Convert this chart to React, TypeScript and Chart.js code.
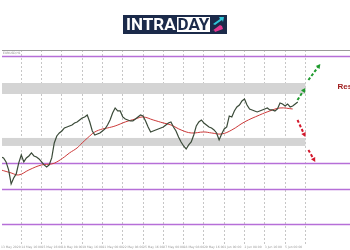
import React, { useEffect, useRef } from "react";
import { Chart, registerables } from "chart.js";
Chart.register(...registerables);

// closing prices, one per bar (bar index = position on the time axis)
const closes = [
  1.0786, 1.0784, 1.0776, 1.0760, 1.0732, 1.0744, 1.0752, 1.0774, 1.0790, 1.0776,
  1.0784, 1.0788, 1.0794, 1.0788, 1.0786, 1.0782, 1.0776, 1.0770, 1.0766, 1.0770,
  1.0784, 1.0814, 1.0828, 1.0834, 1.0838, 1.0844, 1.0846, 1.0848, 1.0850, 1.0854,
  1.0856, 1.0860, 1.0864, 1.0866, 1.0870, 1.0856, 1.0838, 1.0830, 1.0832, 1.0834,
  1.0838, 1.0842, 1.0850, 1.0860, 1.0874, 1.0884, 1.0878, 1.0878, 1.0866, 1.0862,
  1.0860, 1.0858, 1.0858, 1.0862, 1.0866, 1.0870, 1.0868, 1.0858, 1.0846, 1.0836,
  1.0838, 1.0840, 1.0842, 1.0844, 1.0846, 1.0850, 1.0854, 1.0856, 1.0846, 1.0838,
  1.0826, 1.0816, 1.0808, 1.0802, 1.0810, 1.0816, 1.0830, 1.0848, 1.0856, 1.0860,
  1.0854, 1.0850, 1.0846, 1.0844, 1.0840, 1.0834, 1.0820, 1.0832, 1.0842, 1.0846,
  1.0868, 1.0866, 1.0878, 1.0886, 1.0890, 1.0898, 1.0902, 1.0890, 1.0882, 1.0880,
  1.0878, 1.0876, 1.0878, 1.0880, 1.0882, 1.0884, 1.0880, 1.0880, 1.0878, 1.0882,
  1.0894, 1.0892, 1.0888, 1.0892, 1.0886, 1.0888, 1.0892, 1.0896,
];

// moving average (red)
const maBars = [0, 4, 7, 11, 16, 20, 22, 25, 27, 30, 32, 35, 37, 40, 42, 45, 49, 53, 56, 60, 64, 67, 71, 75, 80, 83, 87, 91, 96, 102, 106, 110, 115];
const maValues = [
  1.0760, 1.0754, 1.0750, 1.0760, 1.0770, 1.0772, 1.0776, 1.0786, 1.0794, 1.0804,
  1.0814, 1.0828, 1.0836, 1.0842, 1.0844, 1.0848, 1.0856, 1.0862, 1.0866, 1.0860,
  1.0854, 1.0850, 1.0840, 1.0834, 1.0836, 1.0834, 1.0832, 1.0840, 1.0856, 1.0870,
  1.0878, 1.0884, 1.0882,
];

const gridBars = [0, 8, 16, 24, 32, 40, 48, 56, 64, 72, 80, 88, 96, 104, 112, 120];
const timeLabels = [
  "13 May 2020", "14 May 16:00", "15 May 16:00", "18 May 08:00", "19 May 16:00",
  "21 May 00:00", "22 May 08:00", "25 May 16:00", "27 May 00:00", "28 May 08:00",
  "29 May 16:00", "1 Jun 00:00", "2 Jun 08:00", "3 Jun 16:00", "5 Jun 00:00", "",
];

// horizontal support/resistance levels (purple)
const levelPrices = [1.0988, 1.0774, 1.0722, 1.0652];
// grey zones
const zoneTops = [1.0934, 1.0824];
const zoneBottoms = [1.0912, 1.0808];
const zoneEndBar = 120;

// scenario arrows
const upArrowFromBars = [116.9, 121.2];
const upArrowFromPrices = [1.0900, 1.0940];
const upArrowToBars = [120.0, 125.9];
const upArrowToPrices = [1.0924, 1.0972];
const downArrowFromBars = [116.9, 121.2];
const downArrowFromPrices = [1.0860, 1.0800];
const downArrowToBars = [120.0, 123.9];
const downArrowToPrices = [1.0826, 1.0776];

const noteText = "Resistance";
const noteBar = 132.7;
const notePrice = 1.0926;
const symbolText = "EURUSD,H1";

export default function App() {
  const ref = useRef<HTMLCanvasElement>(null);

  useEffect(() => {
    document.body.style.margin = "0";
    if (!ref.current) return;

    const overlay = {
      id: "overlay",
      beforeDatasetsDraw(chart: any) {
        const { ctx, chartArea, scales } = chart;
        const xs = scales.x, ys = scales.y;
        ctx.save();
        ctx.fillStyle = "#d4d4d4";
        const xEnd = xs.getPixelForValue(zoneEndBar);
        zoneTops.forEach((t, i) => {
          const y1 = ys.getPixelForValue(t);
          const y2 = ys.getPixelForValue(zoneBottoms[i]);
          ctx.fillRect(chartArea.left, y1, xEnd - chartArea.left, y2 - y1);
        });
        ctx.strokeStyle = "#b66fd8";
        ctx.lineWidth = 1.5;
        levelPrices.forEach((p) => {
          const y = Math.round(ys.getPixelForValue(p)) + 0.5;
          ctx.beginPath();
          ctx.moveTo(chartArea.left, y);
          ctx.lineTo(chartArea.right, y);
          ctx.stroke();
        });
        ctx.strokeStyle = "#9a9a9a";
        ctx.lineWidth = 1;
        ctx.beginPath();
        ctx.moveTo(chartArea.left, chartArea.top + 0.5);
        ctx.lineTo(chartArea.right, chartArea.top + 0.5);
        ctx.stroke();
        ctx.fillStyle = "#888";
        ctx.font = "3px 'DejaVu Sans'";
        ctx.textBaseline = "top";
        ctx.fillText(symbolText, chartArea.left + 1, chartArea.top + 1.5);
        ctx.restore();
      },
      afterDatasetsDraw(chart: any) {
        const { ctx, scales } = chart;
        const xs = scales.x, ys = scales.y;
        const arrow = (x1: number, y1: number, x2: number, y2: number, color: string) => {
          const ang = Math.atan2(y2 - y1, x2 - x1);
          const head = 5;
          const bx = x2 - Math.cos(ang) * head * 0.8;
          const by = y2 - Math.sin(ang) * head * 0.8;
          ctx.save();
          ctx.strokeStyle = color;
          ctx.fillStyle = color;
          ctx.lineWidth = 2;
          ctx.setLineDash([3, 2]);
          ctx.beginPath();
          ctx.moveTo(x1, y1);
          ctx.lineTo(bx, by);
          ctx.stroke();
          ctx.setLineDash([]);
          ctx.beginPath();
          ctx.moveTo(x2, y2);
          ctx.lineTo(x2 - Math.cos(ang - 0.5) * head, y2 - Math.sin(ang - 0.5) * head);
          ctx.lineTo(x2 - Math.cos(ang + 0.5) * head, y2 - Math.sin(ang + 0.5) * head);
          ctx.closePath();
          ctx.fill();
          ctx.restore();
        };
        upArrowFromBars.forEach((b, i) => {
          arrow(
            xs.getPixelForValue(b), ys.getPixelForValue(upArrowFromPrices[i]),
            xs.getPixelForValue(upArrowToBars[i]), ys.getPixelForValue(upArrowToPrices[i]),
            "#1f9a2e"
          );
        });
        downArrowFromBars.forEach((b, i) => {
          arrow(
            xs.getPixelForValue(b), ys.getPixelForValue(downArrowFromPrices[i]),
            xs.getPixelForValue(downArrowToBars[i]), ys.getPixelForValue(downArrowToPrices[i]),
            "#d3172b"
          );
        });
        ctx.save();
        ctx.fillStyle = "#9e1a1a";
        ctx.font = "bold 8px 'Liberation Sans'";
        ctx.textBaseline = "middle";
        ctx.textAlign = "left";
        ctx.fillText(noteText, xs.getPixelForValue(noteBar), ys.getPixelForValue(notePrice));
        ctx.restore();
      },
    };

    const chart = new Chart(ref.current, {
      type: "line",
      data: {
        datasets: [
          {
            label: "Price",
            data: closes.map((c, i) => ({ x: i, y: c })),
            borderColor: "#3a4a38",
            borderWidth: 1.2,
            pointRadius: 0,
            tension: 0,
          },
          {
            label: "MA",
            data: maBars.map((b, i) => ({ x: b, y: maValues[i] })),
            borderColor: "#cc3a3a",
            borderWidth: 1,
            pointRadius: 0,
            tension: 0.4,
          },
        ],
      },
      options: {
        animation: false,
        responsive: true,
        maintainAspectRatio: false,
        layout: { padding: { top: 50, left: 0, right: 0, bottom: 0 } },
        plugins: { legend: { display: false }, tooltip: { enabled: false } },
        scales: {
          x: {
            type: "linear",
            min: 0.4,
            max: 137.6,
            afterBuildTicks: (axis: any) => {
              axis.ticks = gridBars.map((v) => ({ value: v }));
            },
            ticks: {
              autoSkip: false,
              maxRotation: 0,
              minRotation: 0,
              align: "start",
              padding: 1,
              color: "#999",
              font: { size: 3, family: "DejaVu Sans" },
              callback: (_v: any, idx: number) => timeLabels[idx],
            },
            grid: {
              drawTicks: false,
              color: (c: any) => (c.tick && c.tick.value > 0 ? "#c6c6c6" : "rgba(0,0,0,0)"),
              lineWidth: 1,
            },
            border: { display: false, dash: [2, 2] },
          },
          y: { display: false, min: 1.0611, max: 1.1 },
        },
      },
      plugins: [overlay],
    } as any);
    return () => chart.destroy();
  }, []);

  return (
    <div style={{ position: "fixed", left: 0, top: 0, width: 350, height: 250, background: "#fff" }}>
      <canvas ref={ref} />
      <div
        style={{
          position: "absolute", left: 123, top: 15, width: 104, height: 19,
          background: "#1b2a4a", display: "flex", alignItems: "center",
          fontFamily: "Roboto, 'DejaVu Sans', sans-serif", fontWeight: 700, fontSize: 17,
          lineHeight: "19px", boxSizing: "border-box", paddingLeft: 3,
        }}
      >
        <span style={{ color: "#fff" }}>INTRA</span>
        <span style={{ color: "#1b2a4a", background: "#fff", lineHeight: "15px", height: 15, padding: "0 1px", marginLeft: 1 }}>DAY</span>
        <svg width="14" height="17" viewBox="0 0 14 17" style={{ marginLeft: 1 }}>
          <polygon points="2,8 9,3 8,1 13,1 12,6 11,4 4,9" fill="#2ec5d8" />
          <polygon points="1,15 9,9 11,10 12,13 4,16 3,14" fill="#e23790" />
        </svg>
      </div>
    </div>
  );
}
